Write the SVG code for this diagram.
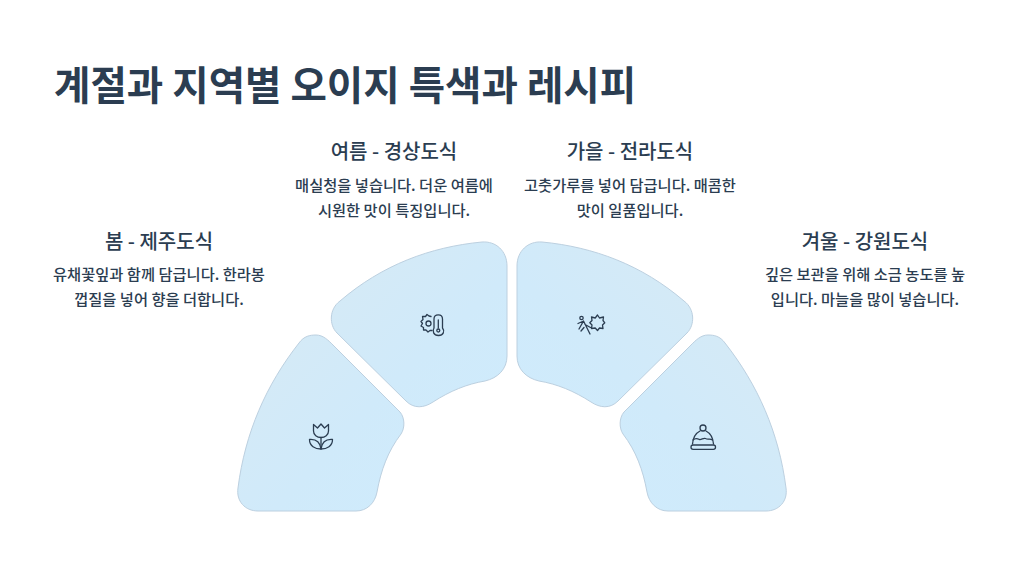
<svg xmlns="http://www.w3.org/2000/svg" width="1024" height="576" viewBox="0 0 1024 576">
<style>
text{font-family:"Noto Sans CJK KR","Noto Sans",sans-serif;fill:#2b3d51}
.t{font-size:39.6px;font-weight:700}
.h{font-size:20px;font-weight:500;text-anchor:middle}
.b{font-size:15.3px;font-weight:500;text-anchor:middle}
.s{fill:url(#g);stroke:#bcd0e0;stroke-width:1}
.i{fill:none;stroke:#2b3d51;stroke-width:1.3;stroke-linecap:round;stroke-linejoin:round}
</style>
<defs><linearGradient id="g" x1="0" y1="0" x2="1" y2="1"><stop offset="0" stop-color="#d6eaf5"/><stop offset="0.6" stop-color="#d0eafa"/><stop offset="1" stop-color="#cfebfc"/></linearGradient>
<path id="p1" d="M333 345L400 412C405 418 405 428 401 434C388 451 381 470 377 492C375 503 367 511 356 511L258 511C245 511 236 501 238 488C245 433 266 385 299 343C304 336 310 335 316 335C323 335 328 340 333 345Z"/>
<path id="p2" d="M482 242C496 241 507 251 507 266L507 356C507 369 498 378 485 381C467 384 450 391 433 402C424 408 414 409 406 401L337 333C329 325 329 309 340 301C382 265 430 247 482 242Z"/></defs>
<rect width="1024" height="576" fill="#fff"/>
<text class="t" x="54" y="100">계절과 지역별 오이지 특색과 레시피</text>
<g id="spring"><use href="#p1" class="s"/>
<g class="i"><path d="M313.500 424.500L317.500 428L321 424L324.500 428L328.500 424.500L328.500 431C328.500 435 325 437.500 321 437.500C317 437.500 313.500 435 313.500 431Z"/><path d="M321 437.500L321 449"/><path d="M321 449C315 449 309.500 446 309.500 439.500C315.500 439 320 442 321 449C322 442 326.500 439 332.500 439.500C332.500 446 327 449 321 449Z"/></g>
<text class="h" x="159" y="249">봄 - 제주도식</text><text class="b" x="159" y="280">유채꽃잎과 함께 담급니다. 한라봉</text><text class="b" x="159" y="304.500">껍질을 넣어 향을 더합니다.</text></g>
<g id="summer"><use href="#p2" class="s"/>
<g class="i"><circle cx="428.500" cy="323.500" r="2.500"/><path d="M431 316.500L429 316L427 314.500L425.500 316.500L422.500 316.500L423 319.500L421 321.500L422.500 323.500L421 326L423.500 327.500L423.500 330L426 330L428 332L430 330.500L432 330.500"/><path d="M434 328L434 319C434 313.500 442.500 313.500 442.500 319L442.500 328C445 331 443.500 335.500 438.500 335.500C433.500 335.500 432 331 434 328Z"/><circle cx="438.300" cy="330.500" r="1.500"/><path d="M438.300 320L438.300 328"/></g>
<text class="h" x="394" y="159">여름 - 경상도식</text><text class="b" x="394" y="190.500">매실청을 넣습니다. 더운 여름에</text><text class="b" x="394" y="215.500">시원한 맛이 특징입니다.</text></g>
<g id="autumn"><use href="#p2" class="s" transform="matrix(-1 0 0 1 1024 0)"/>
<g class="i"><circle cx="581.500" cy="318" r="1.700"/><path d="M579 329L583.500 321L590 334M583.500 321L578 323.500M585 324.500L590.500 327.500M584 327.500L581 331"/><path d="M597.500 315L599.500 318L603.500 317L603 320.500L604.800 322.800L602.500 325L603 328.500L599.500 328L597.500 330.500L595.200 328L591.500 328.500L592 325L589.800 322.800L592 320.500L591.500 317L595.200 318Z"/></g>
<text class="h" x="630" y="159">가을 - 전라도식</text><text class="b" x="630" y="190.500">고춧가루를 넣어 담급니다. 매콤한</text><text class="b" x="630" y="215.500">맛이 일품입니다.</text></g>
<g id="winter"><use href="#p1" class="s" transform="matrix(-1 0 0 1 1024 0)"/>
<g class="i"><circle cx="703" cy="428" r="3"/><path d="M700 431C696 433 693 438 692.500 444M706 431C710 433 713 438 713.500 444"/><path d="M693 440C695.500 437.500 697.500 438.500 699.500 439.500C701.500 440 703.500 437.500 705.500 438.500C708 440 710 438 712.500 440"/><rect x="691" y="445" width="24.500" height="4.300" rx="2.100"/></g>
<text class="h" x="865" y="249">겨울 - 강원도식</text><text class="b" x="865" y="280">깊은 보관을 위해 소금 농도를 높</text><text class="b" x="865" y="304.500">입니다. 마늘을 많이 넣습니다.</text></g>
<g id="connectors"></g>
</svg>
